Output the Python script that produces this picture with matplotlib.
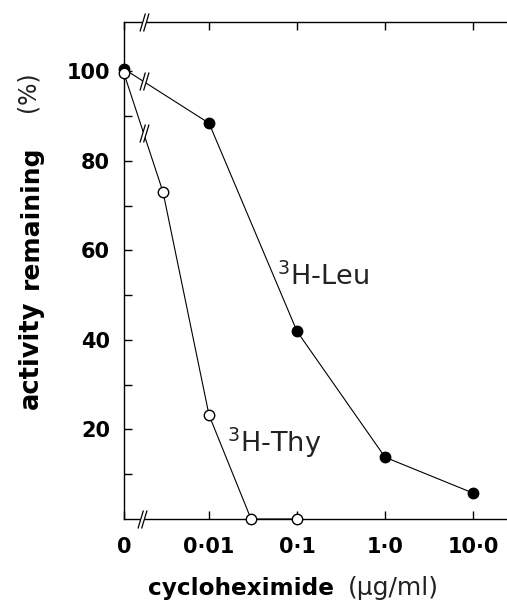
import matplotlib
matplotlib.use('Agg')
import matplotlib.pyplot as plt
import numpy as np
from matplotlib.path import Path
from matplotlib.ticker import NullLocator, FixedLocator

# data (x in ug/ml, y in % activity remaining)
leu_x = [0, 0.01, 0.1, 1.0, 10.0]
leu_y = [100.5, 88.4, 41.9, 13.8, 5.8]
thy_x = [0, 0.003, 0.01, 0.03, 0.1]
thy_y = [99.5, 73.0, 23.2, 0, 0]

x_ticks = [0, 0.01, 0.1, 1.0, 10.0]
x_ticklabels = ['0', '0·01', '0·1', '1·0', '10·0']
y_ticks = [20, 40, 60, 80, 100]
y_minor = [10, 30, 50, 70, 90]

ZERO_POS = 0.00108   # where "0" sits on the broken log axis
BREAK_X = 0.0018     # position of the // break marks


def pos(xs):
	'''map 0 onto the stand-in position left of the break'''
	return [x if x > 0 else ZERO_POS for x in xs]


def y_at(xs, ys, xb):
	'''y of the first segment at xb (linear in log x)'''
	lx = np.log10(pos(xs)[:2])
	return np.interp(np.log10(xb), lx, ys[:2])


# double slash marker plus white gap between the slashes
slash = Path([(-0.25, -0.5), (0.05, 0.5), (-0.05, -0.5), (0.25, 0.5)],
	[Path.MOVETO, Path.LINETO, Path.MOVETO, Path.LINETO])
gap = Path([(-0.25, -0.5), (-0.05, -0.5), (0.25, 0.5), (0.05, 0.5), (-0.25, -0.5)],
	[Path.MOVETO, Path.LINETO, Path.LINETO, Path.LINETO, Path.CLOSEPOLY])


def draw_break(ax, x, y):
	ax.plot([x], [y], marker=gap, markersize=13, color='white', markeredgewidth=0,
		linestyle='none', zorder=5, clip_on=False)
	ax.plot([x], [y], marker=slash, markersize=13, color='black', markerfacecolor='none',
		markeredgewidth=0.9, linestyle='none', zorder=6, clip_on=False)


def main():
	fig = plt.figure(figsize=(5.07, 6.03), dpi=100)
	ax = fig.add_axes([124 / 507, 84 / 603, (532 - 124) / 507, 497 / 603])
	ax.set_xscale('log')
	ax.set_xlim(ZERO_POS, 46.8)
	ax.set_ylim(0, 111)

	ax.plot(pos(leu_x), leu_y, color='black', lw=0.8, marker='o', markersize=7.5,
		markerfacecolor='black', markeredgecolor='black', clip_on=False, zorder=3)
	ax.plot(pos(thy_x), thy_y, color='black', lw=0.8, marker='o', markersize=7.5,
		markerfacecolor='white', markeredgecolor='black', markeredgewidth=1.0,
		clip_on=False, zorder=4)

	# breaks on both curves and on the axes
	draw_break(ax, BREAK_X, y_at(leu_x, leu_y, BREAK_X))
	draw_break(ax, BREAK_X, y_at(thy_x, thy_y, BREAK_X))
	draw_break(ax, BREAK_X * 0.96, 0)
	draw_break(ax, BREAK_X, 111)

	for side in ['left', 'bottom', 'top', 'right']:
		ax.spines[side].set_linewidth(1.0)

	ax.xaxis.set_major_locator(FixedLocator(pos(x_ticks)))
	ax.xaxis.set_minor_locator(NullLocator())
	ax.set_xticklabels(x_ticklabels, fontsize=15, fontweight='bold', family='DejaVu Sans')
	ax.yaxis.set_major_locator(FixedLocator(y_ticks))
	ax.yaxis.set_minor_locator(FixedLocator(y_minor))
	ax.set_yticklabels([str(v) for v in y_ticks], fontsize=15, fontweight='bold',
		family='DejaVu Sans')

	ax.tick_params(axis='x', which='major', direction='in', length=6, width=1.0,
		top=True, pad=13)
	ax.tick_params(axis='y', which='both', direction='in', length=6, width=1.0, pad=10)

	# curve labels
	ax.text(0.0593, 52.3, r'$^{3}$H-Leu', fontsize=19.5, family='DejaVu Sans',
		ha='left', va='baseline', color='#222222')
	ax.text(0.0160, 14.9, r'$^{3}$H-Thy', fontsize=19.5, family='DejaVu Sans',
		ha='left', va='baseline', color='#222222')

	# axis titles, bold and plain parts
	fig.text(148 / 507, 1 - 595 / 603, 'cycloheximide', fontsize=16.7, fontweight='bold',
		family='DejaVu Sans', ha='left', va='baseline')
	fig.text(348 / 507, 1 - 595 / 603, '(µg/ml)', fontsize=18, family='DejaVu Sans',
		ha='left', va='baseline', color='#222222')
	fig.text(31 / 507, 1 - 355 / 603, 'activity', fontsize=18.5, fontweight='bold',
		family='DejaVu Sans', rotation=90, ha='center', va='center')
	fig.text(31 / 507, 1 - 217 / 603, 'remaining', fontsize=18, fontweight='bold',
		family='DejaVu Sans', rotation=90, ha='center', va='center')
	fig.text(28 / 507, 1 - 92 / 603, '(%)', fontsize=17, family='DejaVu Sans',
		rotation=90, ha='center', va='center', color='#222222')

	fig.savefig('out.png', dpi=100)


if __name__ == '__main__':
	main()
